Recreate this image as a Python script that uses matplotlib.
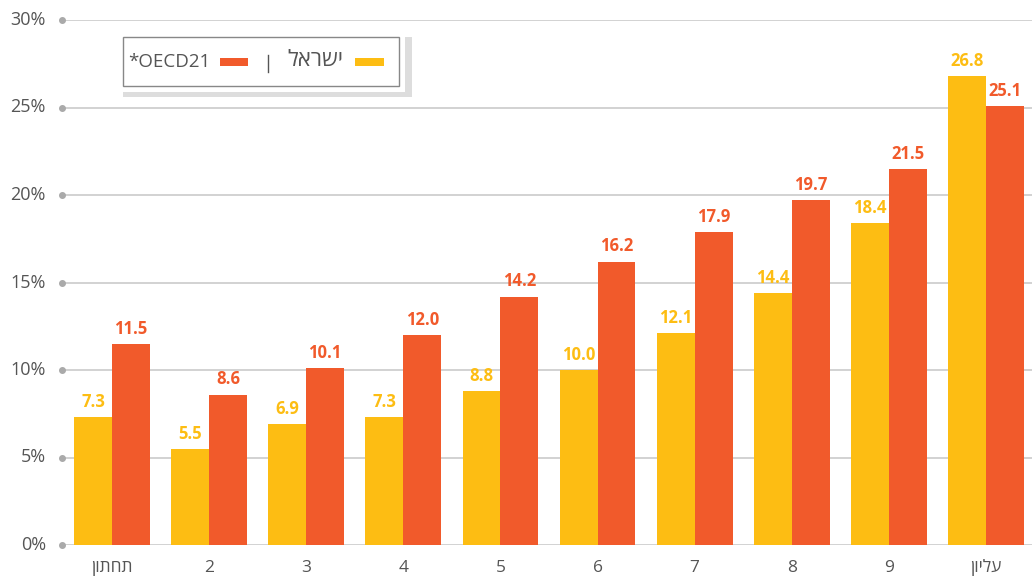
import matplotlib
matplotlib.use("Agg")
import matplotlib.pyplot as plt
from matplotlib.patches import Rectangle

plt.rcParams['font.family'] = ['Open Sans', 'DejaVu Sans']

categories = ["תחתון", "2", "3", "4", "5", "6", "7", "8", "9", "עליון"]
israel = [7.3, 5.5, 6.9, 7.3, 8.8, 10.0, 12.1, 14.4, 18.4, 26.8]
oecd = [11.5, 8.6, 10.1, 12.0, 14.2, 16.2, 17.9, 19.7, 21.5, 25.1]
yticks = [0, 5, 10, 15, 20, 25, 30]
series_names = ["ישראל", "*OECD21"]

YELLOW = "#FDBD13"
ORANGE = "#F15A2B"
GRID = "#CBCBCB"
TXT = "#555555"

def rtl(s):
    if any('\u0590' <= c <= '\u05FF' for c in s):
        return s[::-1]
    return s

W, H = 1032, 576
fig = plt.figure(figsize=(W / 100, H / 100), dpi=100)
ax = fig.add_axes([62 / W, (576 - 545) / H, 1 - 62 / W, (545 - 20) / H])

x = list(range(len(categories)))
bw = 0.39
ax.bar([i - bw / 2 for i in x], israel, width=bw, color=YELLOW, zorder=3)
ax.bar([i + bw / 2 for i in x], oecd, width=bw, color=ORANGE, zorder=3)

xmin, xmax = -0.515, 9.474
ax.set_xlim(xmin, xmax)
ax.set_ylim(0, 30)

for t in yticks:
    ax.axhline(t, color=GRID, lw=1.2, zorder=1)
    ax.plot([xmin], [t], marker='o', ms=4, color="#AAAAAA", clip_on=False, zorder=4)
    ax.text(-0.68, t, f"{t}%", ha='right', va='center', fontsize=13, color=TXT)

for i in x:
    ax.text(i - bw / 2, israel[i] + 0.35, f"{israel[i]:.1f}", ha='center', va='bottom',
            fontsize=12, fontweight='bold', color=YELLOW)
    ax.text(i + bw / 2, oecd[i] + 0.35, f"{oecd[i]:.1f}", ha='center', va='bottom',
            fontsize=12, fontweight='bold', color=ORANGE)
    ax.text(i, -1.3, rtl(categories[i]), ha='center', va='center', fontsize=12.5, color=TXT)

ax.set_xticks([])
ax.set_yticks([])
for s in ax.spines.values():
    s.set_visible(False)

# legend box (figure pixel coords)
def rect(x0, y0, x1, y1, **kw):
    r = Rectangle((x0 / W, 1 - y1 / H), (x1 - x0) / W, (y1 - y0) / H,
                  transform=fig.transFigure, **kw)
    fig.patches.append(r)

def px(xp, yp):
    return xp / W, 1 - yp / H

rect(123, 37, 412, 97, facecolor="#DDDDDD", edgecolor='none', zorder=1)
rect(123, 37, 405, 92, facecolor="white", edgecolor='none', zorder=2)
rect(123, 37, 399, 86, facecolor="white", edgecolor="#888888", lw=1.0, zorder=3)
rect(220, 58, 248, 66, facecolor=ORANGE, edgecolor='none', zorder=4)
rect(355, 58, 384, 66, facecolor=YELLOW, edgecolor='none', zorder=4)

fx, fy = px(210, 62)
fig.text(fx, fy, series_names[1], ha='right', va='center', fontsize=13.5, color=TXT, zorder=5)
fig.lines.append(plt.Line2D([268 / W, 268 / W], [1 - 55 / H, 1 - 72 / H],
                            transform=fig.transFigure, color=TXT, lw=1.0, zorder=5))
fx, fy = px(343, 61)
fig.text(fx, fy, rtl(series_names[0]), ha='right', va='center', fontsize=16, color=TXT, zorder=5)

fig.savefig("out.png", dpi=100)
